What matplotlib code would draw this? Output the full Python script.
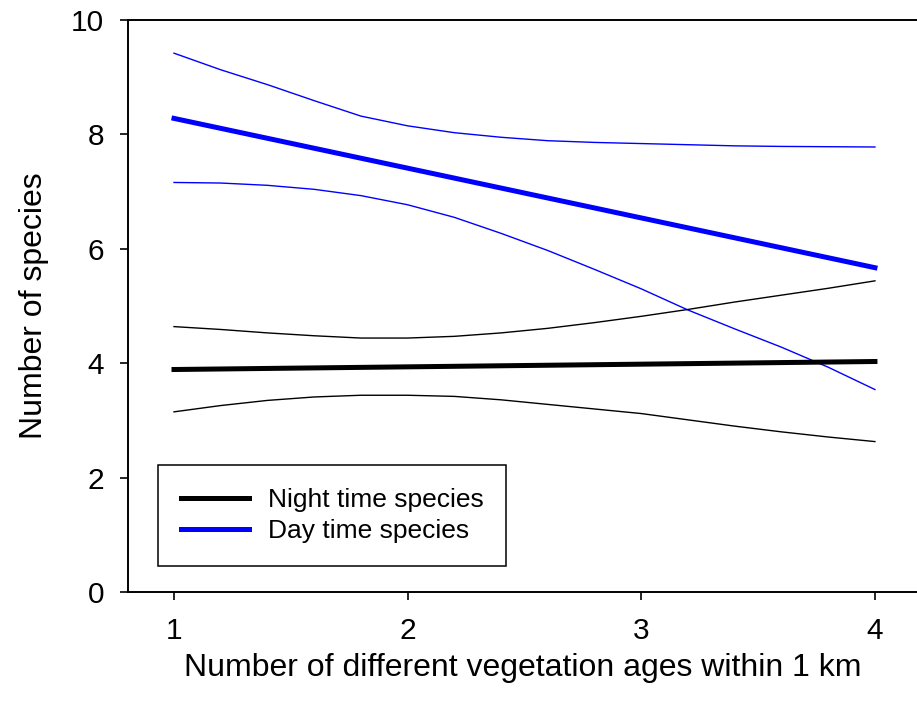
import numpy as np
import matplotlib.pyplot as plt

plt.rcParams['font.family'] = ['Liberation Sans', 'DejaVu Sans']

# values
ages = [1, 4]
night_fit = [3.89, 4.03]
day_fit = [8.28, 5.67]

band_x = [1.0, 1.2, 1.4, 1.6, 1.8, 2.0, 2.2, 2.4, 2.6, 2.8, 3.0, 3.2, 3.4, 3.6, 3.8, 4.0]
day_upper = [9.42, 9.13, 8.87, 8.59, 8.32, 8.15, 8.03, 7.95, 7.89, 7.86, 7.84, 7.82, 7.80, 7.79, 7.785, 7.78]
day_lower = [7.16, 7.15, 7.11, 7.04, 6.93, 6.77, 6.55, 6.27, 5.97, 5.64, 5.30, 4.93, 4.60, 4.28, 3.93, 3.54]
night_upper = [4.64, 4.59, 4.53, 4.48, 4.44, 4.44, 4.47, 4.53, 4.61, 4.71, 4.82, 4.94, 5.07, 5.19, 5.31, 5.44]
night_lower = [3.15, 3.26, 3.35, 3.41, 3.44, 3.44, 3.42, 3.36, 3.28, 3.20, 3.12, 3.01, 2.90, 2.80, 2.71, 2.63]

fig = plt.figure(figsize=(9.17, 7.12), dpi=100)
ax = fig.add_axes([0.1393, 0.1685, 0.8607, 0.8034])

ax.plot(band_x, day_upper, color='#0000ff', lw=1.0)
ax.plot(band_x, day_lower, color='#0000ff', lw=1.0)
ax.plot(band_x, night_upper, color='black', lw=1.0)
ax.plot(band_x, night_lower, color='black', lw=1.0)
ax.plot(ages, night_fit, color='black', lw=3.6, label='Night time species')
ax.plot(ages, day_fit, color='#0000ff', lw=3.6, label='Day time species')

ax.set_xlim(0.802, 4.18)
ax.set_ylim(0, 10)
ax.set_xticks([1, 2, 3, 4])
ax.set_yticks([0, 2, 4, 6, 8, 10])
ax.spines['right'].set_visible(False)
for s in ['left', 'bottom', 'top']:
    ax.spines[s].set_linewidth(1.4)
ax.tick_params(direction='out', length=6, width=1.2, labelsize=21.5)
ax.tick_params(axis='y', pad=11)
ax.tick_params(axis='x', pad=12)

ax.set_xlabel('Number of different vegetation ages within 1 km', fontsize=23, labelpad=6)
ax.set_ylabel('Number of species', fontsize=23, labelpad=16)

leg = ax.legend(loc='lower left', bbox_to_anchor=(0.0388, 0.046), borderaxespad=0,
                fontsize=19, fancybox=False, handlelength=2.6, handletextpad=0.7,
                borderpad=0.85, labelspacing=0.28)
leg.get_frame().set_edgecolor('black')
leg.get_frame().set_linewidth(1.1)
leg.get_frame().set_alpha(1)

fig.savefig('out.png', dpi=100)
